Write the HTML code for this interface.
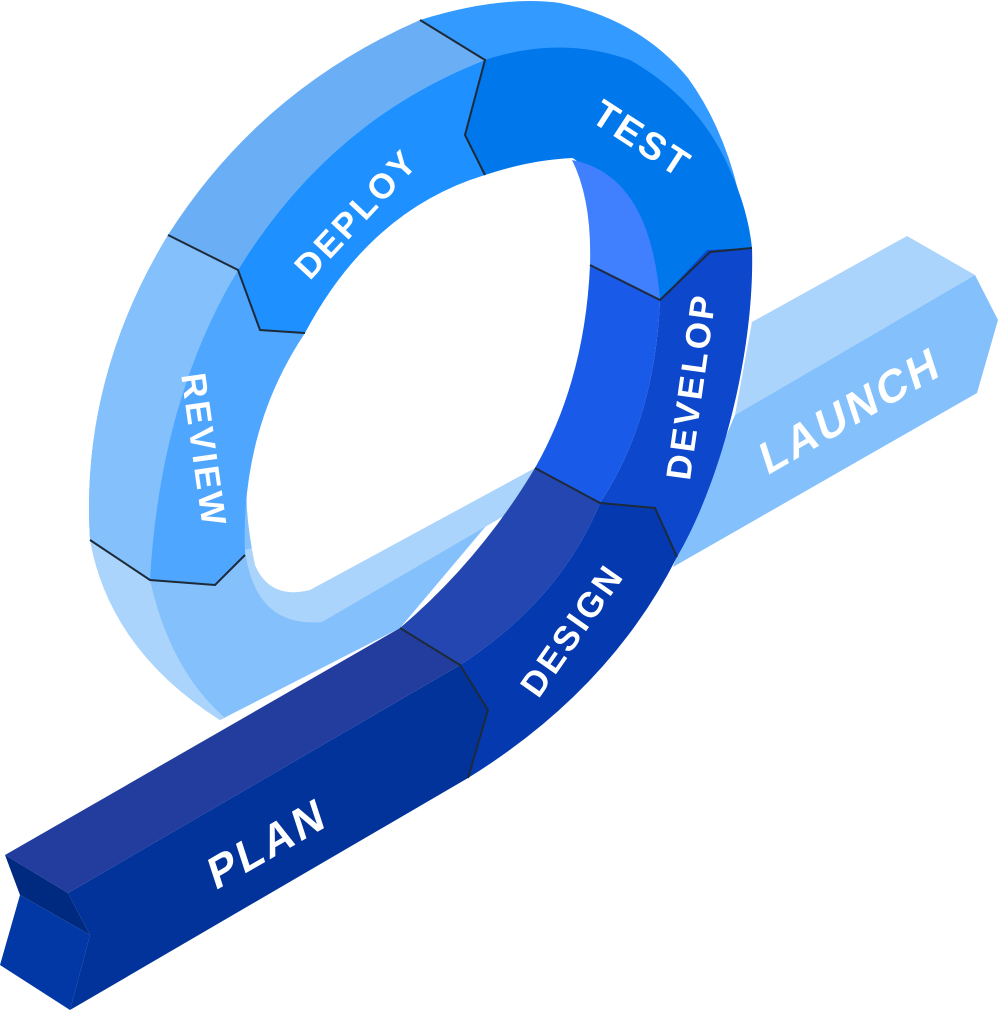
<!DOCTYPE html>
<html><head><meta charset="utf-8"><style>
html,body{margin:0;padding:0;background:#fff;}
svg{display:block}
text{font-family:"Liberation Sans",sans-serif;font-weight:bold;fill:#fff;letter-spacing:3px;}
</style></head><body>
<svg width="1000" height="1012" viewBox="0 0 1000 1012">
<!-- LAUNCH bar -->
<polygon points="752,322 907,236 975,275 735,415" fill="#aad4fb"/>
<polygon points="735,415 975,275 998,320 977,393 673,567 690,520" fill="#84c1fc"/>
<!-- base loop -->
<path d="M168,235 L305,333 L540,462 L400,628 L220,720 Q110,650 90,540 Q80,380 168,235 Z" fill="#84c1fc"/>
<!-- light band inside hole -->
<path d="M245,550 Q255,628 322,622 L540,495 L545,455 Z" fill="#aad4fb"/>
<!-- loop bottom thickness -->
<path d="M90,540 L150,580 Q170,670 225,718 L220,720 Q110,650 90,540 Z" fill="#aad4fb"/>
<!-- hole -->
<path d="M485,175 Q530,160 572,160 Q595,200 590,265 Q585,380 535,468 L310,590 Q270,600 255,565 Q235,470 260,400 Q280,340 305,333 Q340,250 370,215 Q420,180 485,175 Z" fill="#fff"/>
<!-- DEPLOY thickness -->
<path d="M168,235 L238,270 Q330,120 485,60 L420,20 Q260,90 168,235 Z" fill="#6aaff5"/>
<!-- TEST thickness -->
<path d="M420,20 Q500,-5 560,3 Q640,20 688,78 Q722,125 738,190 L600,120 L485,60 Z" fill="#339bff"/>
<!-- REVIEW thickness -->
<path d="M168,235 L238,270 Q160,400 150,580 L90,540 Q80,380 168,235 Z" fill="#84c1fc"/>
<!-- REVIEW front -->
<path d="M238,270 L260,330 L305,333 Q240,430 245,555 L215,585 L150,580 Q160,400 238,270 Z" fill="#4fa6ff"/>
<!-- DEPLOY front -->
<path d="M238,270 Q330,120 485,60 L465,135 L485,175 Q370,210 305,333 L260,330 Z" fill="#1e90ff"/>
<!-- TEST front -->
<path d="M485,60 Q560,35 630,60 Q700,100 730,170 Q748,210 752,248 L710,252 L660,300 L600,280 L585,170 Q575,158 572,158 Q530,160 485,175 L465,135 Z" fill="#0078ec"/>
<!-- inner wall TEST -->
<path d="M572,160 Q650,175 660,300 L590,265 Q592,200 572,160 Z" fill="#4080ff"/>
<!-- inner wall DEVELOP -->
<path d="M590,265 L660,300 Q655,420 600,503 L535,468 Q585,380 590,265 Z" fill="#1a5ae8"/>
<!-- DEVELOP front -->
<path d="M660,300 L707,250 L752,248 C755,350 722,480 677,557 L655,508 L600,503 Q655,420 660,300 Z" fill="#0d47cc"/>
<!-- DESIGN top band -->
<path d="M535,468 L600,503 Q560,600 460,665 L400,628 Q480,560 535,468 Z" fill="#2446b0"/>
<!-- DESIGN front -->
<path d="M600,503 L655,508 L677,557 Q610,690 468,778 L488,710 L460,665 Q560,600 600,503 Z" fill="#0439b0"/>
<!-- PLAN -->
<polygon points="5,855 400,628 460,665 68,893" fill="#233d9e"/>
<polygon points="68,893 460,665 488,710 468,778 70,1010 90,935" fill="#02339a"/>
<polygon points="5,855 68,893 90,935 20,895" fill="#002a80"/>
<polygon points="20,895 90,935 70,1010 0,965" fill="#0237a6"/>
<!-- seam lines -->
<g fill="none" stroke="#1d2a3a" stroke-width="2">
<polyline points="420,20 485,60 465,135 485,175"/>
<polyline points="168,235 238,270 260,330 305,333"/>
<polyline points="90,540 150,580 215,585 245,555"/>
<polyline points="590,265 660,300 710,252 752,248"/>
<polyline points="535,468 600,503 655,508 677,557"/>
<polyline points="400,628 460,665 488,710 468,778"/>
</g>
<!-- labels -->
<text x="0" y="0" font-size="44" text-anchor="middle" transform="translate(272,858) rotate(-30) skewX(-12)">PLAN</text>
<text x="0" y="0" font-size="35" text-anchor="middle" transform="translate(582,637) rotate(-55)">DESIGN</text>
<text x="0" y="0" font-size="35" text-anchor="middle" transform="translate(703,388) rotate(-82)">DEVELOP</text>
<text x="0" y="0" font-size="38" text-anchor="middle" transform="translate(635,150) rotate(33)">TEST</text>
<text x="0" y="0" font-size="35" text-anchor="middle" transform="translate(365,222) rotate(-47)">DEPLOY</text>
<text x="0" y="0" font-size="35" text-anchor="middle" transform="translate(192,452) rotate(82)">REVIEW</text>
<text x="0" y="0" font-size="44" text-anchor="middle" transform="translate(855,425) rotate(-30) skewX(-12)">LAUNCH</text>
</svg>
</body></html>
